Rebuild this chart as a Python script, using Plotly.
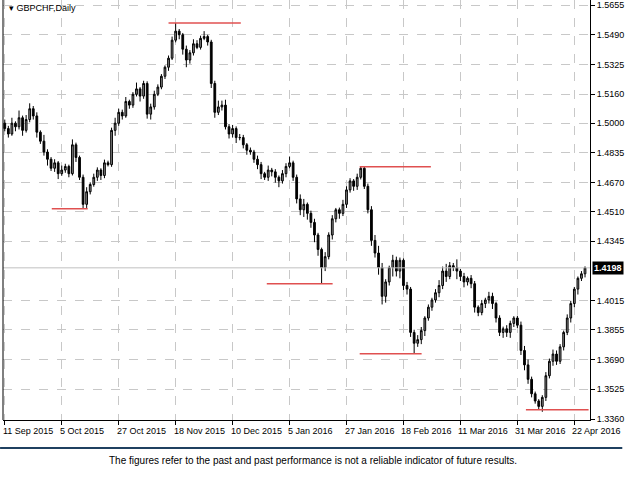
import plotly.graph_objects as go

# daily closes, GBPCHF
closes = [1.497, 1.494, 1.500, 1.498, 1.503, 1.496,
          1.502, 1.508, 1.504, 1.495, 1.490,
          1.484, 1.480, 1.475, 1.478, 1.472,
          1.474, 1.476, 1.472, 1.488, 1.481,
          1.470, 1.455, 1.462, 1.466,
          1.470, 1.474, 1.471, 1.478, 1.477, 1.496,
          1.500, 1.506, 1.504, 1.512, 1.510,
          1.516, 1.519, 1.515, 1.522, 1.505,
          1.509, 1.516, 1.520, 1.526, 1.531,
          1.536, 1.546, 1.551, 1.549, 1.541,
          1.535, 1.539, 1.544, 1.542, 1.547,
          1.548, 1.545, 1.522, 1.506, 1.509,
          1.510, 1.498, 1.494, 1.497, 1.492,
          1.492, 1.488, 1.485, 1.484, 1.480,
          1.477, 1.472, 1.470, 1.474, 1.473,
          1.470, 1.468, 1.472, 1.476, 1.478,
          1.470, 1.458, 1.452, 1.455, 1.450,
          1.445, 1.438, 1.430, 1.420, 1.426,
          1.438, 1.447, 1.452, 1.450, 1.455,
          1.463, 1.468, 1.465, 1.470, 1.475,
          1.465, 1.452, 1.435, 1.428, 1.420,
          1.404, 1.412, 1.420, 1.424, 1.418,
          1.424, 1.410, 1.408, 1.384, 1.378,
          1.380, 1.385, 1.392, 1.398, 1.402,
          1.406, 1.410, 1.418, 1.415, 1.421,
          1.420, 1.418, 1.415, 1.412, 1.414,
          1.411, 1.398, 1.395, 1.400, 1.402,
          1.404, 1.400, 1.392, 1.384, 1.386,
          1.384, 1.389, 1.392, 1.388, 1.374,
          1.366, 1.358, 1.350, 1.346, 1.343,
          1.348, 1.360, 1.368, 1.372, 1.368,
          1.376, 1.384, 1.392, 1.400, 1.408,
          1.414, 1.4165, 1.4198]
first_open = 1.500

# wick lengths in pips (0.0001)
upper_wick = [20, 15, 30, 10, 40, 12, 25, 30, 15, 20, 10,
              35, 15, 12, 20, 10, 25, 15, 10, 30, 12,
              10, 15, 25, 12, 20, 15, 10, 18, 12, 15,
              30, 20, 15, 25, 10, 12, 35, 10, 15, 12,
              18, 20, 15, 12, 10, 15, 20, 45, 12, 10,
              20, 15, 25, 20, 15, 30, 10, 12, 15, 35,
              25, 30, 15, 20, 12, 20, 15, 10, 15, 12,
              20, 15, 10, 25, 12, 15, 10, 20, 18, 35,
              12, 15, 25, 30, 10, 15, 20, 12, 10, 25,
              15, 20, 10, 12, 25, 20, 15, 10, 20, 8,
              12, 15, 20, 30, 40, 25, 15, 10, 30, 20,
              15, 10, 20, 12, 15, 25, 20, 10, 15, 12,
              20, 30, 25, 40, 20, 15, 45, 12, 20, 10,
              18, 15, 10, 20, 12, 25, 20, 10, 15, 12,
              20, 15, 10, 12, 20, 25, 30, 15, 12, 10,
              12, 20, 15, 25, 20, 15, 10, 20, 15, 12,
              10, 15, 8, 5]
lower_wick = [15, 20, 10, 25, 15, 30, 12, 15, 20, 30, 15,
              20, 35, 15, 20, 30, 12, 15, 20, 10, 25,
              15, 25, 20, 15, 12, 20, 25, 15, 10, 12,
              30, 15, 20, 10, 20, 15, 12, 30, 15, 25,
              30, 15, 10, 12, 15, 20, 10, 12, 25, 30,
              40, 20, 15, 10, 12, 10, 20, 25, 30, 15,
              20, 15, 25, 20, 30, 15, 20, 25, 15, 20,
              25, 30, 15, 20, 25, 30, 35, 15, 20, 10,
              20, 25, 30, 40, 35, 30, 40, 35, 90, 20,
              15, 25, 20, 30, 15, 20, 15, 25, 20, 12,
              15, 20, 30, 25, 40, 45, 35, 20, 50, 30,
              40, 25, 30, 25, 58, 20, 25, 30, 15, 20,
              15, 25, 20, 30, 15, 20, 45, 25, 30, 20,
              25, 30, 20, 15, 25, 20, 30, 25, 20, 30,
              25, 30, 20, 15, 25, 30, 25, 20, 15, 19,
              30, 20, 15, 25, 20, 15, 20, 15, 25, 20,
              30, 15, 20, 10]

# horizontal support/resistance marks: (start bar, end bar, price)
level_lines = [(13.2, 23.3, 1.4525), (46.0, 66.3, 1.5555), (73.6, 92.1, 1.4110),
               (99.7, 119.7, 1.4758), (99.7, 117.1, 1.3722), (146.4, 164.0, 1.3411)]

y_ticks = [1.5655, 1.5490, 1.5325, 1.5160, 1.5000, 1.4835, 1.4670, 1.4510,
           1.4345, 1.4015, 1.3855, 1.3690, 1.3525, 1.3360]
x_tick_bars = [0, 16, 32, 48, 64, 80, 96, 112, 128, 144, 160]
x_tick_labels = ["11 Sep 2015", "5 Oct 2015", "27 Oct 2015", "18 Nov 2015",
                 "10 Dec 2015", "5 Jan 2016", "27 Jan 2016", "18 Feb 2016",
                 "11 Mar 2016", "31 Mar 2016", "22 Apr 2016"]
last_price = 1.4198

opens = [first_open] + closes[:-1]
highs = [max(o, c) + w / 10000 for o, c, w in zip(opens, closes, upper_wick)]
lows = [min(o, c) - w / 10000 for o, c, w in zip(opens, closes, lower_wick)]
bars = list(range(len(closes)))

fig = go.Figure(go.Candlestick(
    x=bars, open=opens, high=highs, low=lows, close=closes,
    increasing=dict(fillcolor="#8c8c8c", line=dict(color="black", width=1)),
    decreasing=dict(fillcolor="black", line=dict(color="black", width=1)),
    whiskerwidth=0, showlegend=False, hoverinfo="skip"))

fig.add_hline(y=last_price, line=dict(color="#c0c0c0", width=1))

for x0, x1, p in level_lines:
    fig.add_shape(type="line", x0=x0, x1=x1, y0=p, y1=p,
                  line=dict(color="#e05050", width=1.5))

font = dict(family="Liberation Sans, Arial", size=9, color="black")
for b, t in zip(x_tick_bars, x_tick_labels):
    fig.add_annotation(x=b, y=0, xref="x", yref="paper", yanchor="top",
                       xanchor="left", yshift=-4, xshift=-4, text=t,
                       showarrow=False, font=font)

fig.add_annotation(x=1, y=last_price, xref="paper", yref="y", xanchor="left",
                   xshift=2, text="<b>1.4198</b>", showarrow=False, bgcolor="black",
                   font=dict(family="Liberation Sans, Arial", size=9, color="white"),
                   borderpad=1)
fig.add_annotation(x=0, y=1, xref="paper", yref="paper", xanchor="left", yanchor="top",
                   xshift=4, yshift=-1, text="▾ GBPCHF,Daily", showarrow=False, font=font)
fig.add_annotation(x=0.528, y=-48 / 420, xref="paper", yref="paper", xanchor="center",
                   text="The figures refer to the past and past performance is not a reliable indicator of future results.",
                   showarrow=False, font=dict(family="Liberation Sans, Arial", size=10, color="black"))
fig.add_shape(type="line", xref="paper", yref="paper", x0=-0.005, x1=1.055,
              y0=-28 / 420, y1=-28 / 420, line=dict(color="#1f4060", width=2))

fig.update_xaxes(range=[-0.5, 164.4], rangeslider_visible=False,
                 tickvals=x_tick_bars, ticktext=[""] * len(x_tick_bars),
                 ticks="outside", ticklen=4, tickcolor="black",
                 showgrid=True, gridcolor="#c8c8c8", griddash="dash", gridwidth=1,
                 showline=True, linecolor="black", mirror=False, zeroline=False)
fig.update_yaxes(range=[1.33545, 1.56827], side="right", tickvals=y_ticks,
                 tickformat=".4f", ticks="outside", ticklen=4, tickcolor="black",
                 tickfont=font, showgrid=True, gridcolor="#c8c8c8", griddash="dash",
                 showline=True, linecolor="black", zeroline=False)
fig.add_shape(type="line", xref="paper", yref="paper", x0=0, x1=0, y0=0, y1=1,
              line=dict(color="black", width=1))

fig.update_layout(width=627, height=492, margin=dict(l=3, r=37, t=0, b=72),
                  plot_bgcolor="white", paper_bgcolor="white")
fig.write_html("out.html", config={"displayModeBar": False},
               post_script="document.body.style.margin='0';")
